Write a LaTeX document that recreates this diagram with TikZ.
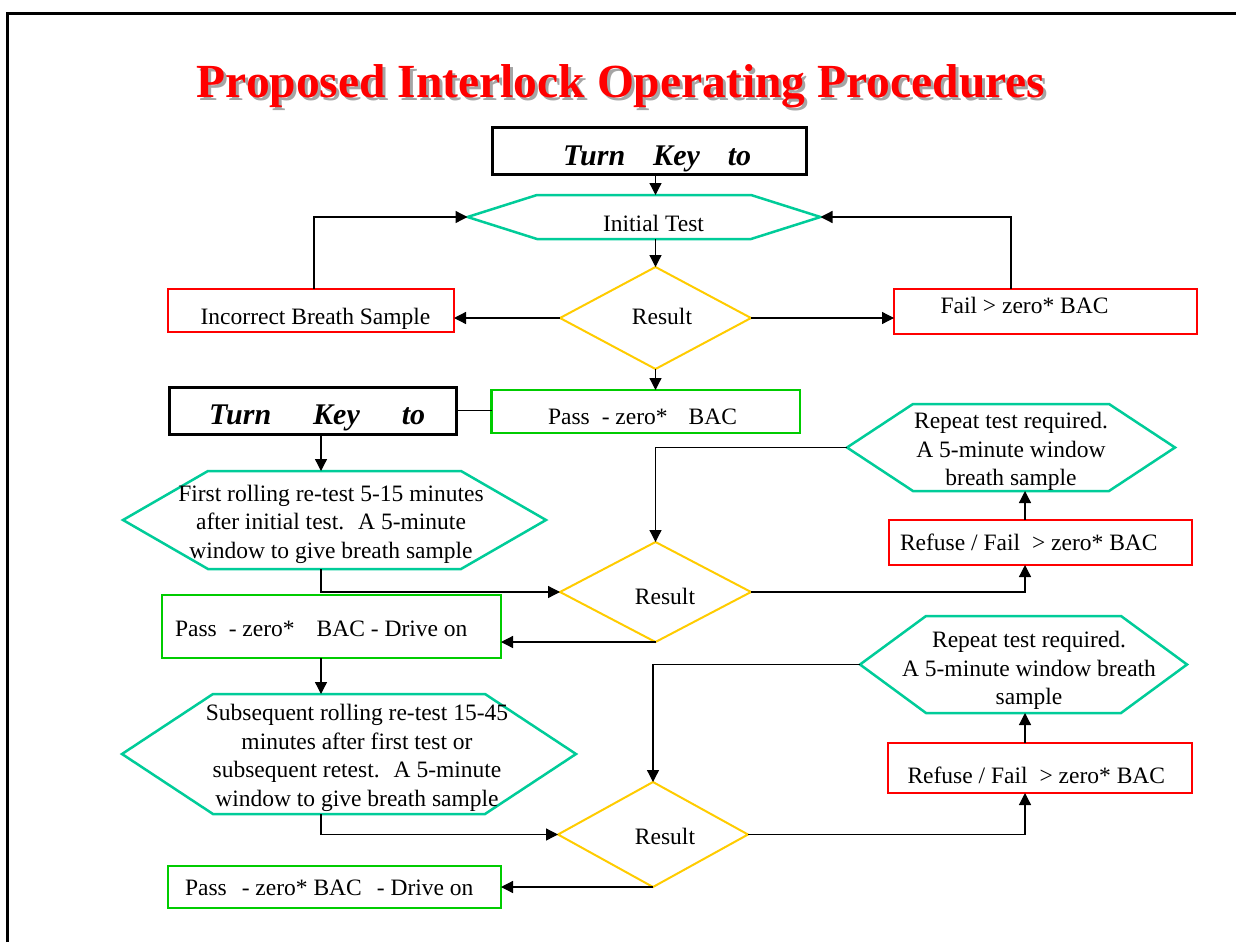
\documentclass[tikz,border=0pt]{standalone}
\usepackage{fontspec}
\setmainfont{Liberation Serif}
\usetikzlibrary{arrows.meta,calc,shapes.geometric}

\definecolor{hexteal}{RGB}{0,204,153}
\definecolor{decgold}{RGB}{255,204,0}
\definecolor{failred}{RGB}{255,0,0}
\definecolor{passgreen}{RGB}{0,204,0}
\definecolor{shadowgrey}{RGB}{165,165,165}

% Hexagon with pointed left and right ends:
% #1 name, #2,#3 centre, #4 half length of flat edge, #5 half height, #6 tip depth
\newcommand\hexoutline[6]{%
  \coordinate (#1) at (#2,#3);
  \coordinate (#1-n) at ($(#1)+(0,-#5)$);
  \coordinate (#1-s) at ($(#1)+(0,#5)$);
  \coordinate (#1-w) at ($(#1)+(-#4-#6,0)$);
  \coordinate (#1-e) at ($(#1)+(#4+#6,0)$);
  \draw[hexline] ($(#1)+(-#4,-#5)$) -- ($(#1)+(#4,-#5)$) -- (#1-e)
    -- ($(#1)+(#4,#5)$) -- ($(#1)+(-#4,#5)$) -- (#1-w) -- cycle;
}

\begin{document}
\begin{tikzpicture}[x=1pt,y=-1pt,
  every node/.style={inner sep=0pt, outer sep=0pt},
  bodytext/.style={font=\fontsize{23.5}{28.6}\selectfont, align=center},
  boxtext/.style={font=\fontsize{23.5}{28.6}\selectfont, anchor=base},
  boxtextw/.style={font=\fontsize{23.5}{28.6}\selectfont, anchor=base west},
  keytext/.style={font=\fontsize{30}{36}\selectfont\bfseries\itshape, anchor=base west},
  titletext/.style={font=\fontsize{47.5}{57}\selectfont\bfseries, anchor=base},
  keybox/.style={draw=black, line width=3pt},
  redbox/.style={draw=failred, line width=2.5pt},
  greenbox/.style={draw=passgreen, line width=2.5pt},
  decision/.style={diamond, draw=decgold, line width=2pt},
  hexline/.style={draw=hexteal, line width=2.5pt, line join=miter},
  flow/.style={draw=black, line width=1.3pt, -{Triangle[length=12pt,width=12pt]}},
  link/.style={draw=black, line width=1.3pt},
]
\fill[white] (0,0) rectangle (1236,942);
\useasboundingbox (0,0) rectangle (1236,942);

% page frame
\draw[line width=3pt] (7.5,942) -- (7.5,13.5) -- (1236,13.5);

% title with drop shadow
\node[titletext, text=shadowgrey] (titleshadow) at (624,100) {Proposed Interlock Operating Procedures};
\node[titletext, text=failred] (title) at (621,97) {Proposed Interlock Operating Procedures};

% lanes used by the vertical connectors
\coordinate (lane) at (321,500);
\coordinate (rlane) at (1025,600);

% ---- start ----
\node[keybox, minimum width=314pt, minimum height=47pt] (key1) at (649,150.5) {};
\node[keytext] (key1t) at (563,165) {Turn\hspace{28pt}Key\hspace{28pt}to};

\hexoutline{hexA}{644}{217}{107}{22}{69.5}
\node[boxtext] (hexAt) at (653.5,231) {Initial Test};

\node[decision, minimum width=191pt, minimum height=102pt] (d1) at (655.5,318) {};
\node[boxtext] (d1t) at (662,324) {Result};

\node[redbox, minimum width=286pt, minimum height=43pt] (incorrect) at (311,310.5) {};
\node[boxtext] (incorrectt) at (315.5,324) {Incorrect Breath Sample};

\node[redbox, minimum width=303pt, minimum height=45pt] (fail) at (1045.5,311.5) {};
\node[boxtext] (failt) at (1024.5,313) {Fail > zero* BAC};

\node[greenbox, minimum width=308.5pt, minimum height=43pt] (pass1) at (645.75,411.5) {};
\node[boxtextw] (pass1t) at (548,424) {Pass\hspace{12pt}- zero*\hspace{21pt}BAC};

\node[keybox, minimum width=287pt, minimum height=47pt] (key2) at (312.5,410.5) {};
\node[keytext] (key2t) at (209,424) {Turn\hspace{42pt}Key\hspace{42pt}to};

% ---- first rolling re-test ----
\hexoutline{hexB}{334.5}{520}{126.5}{49}{85}
\node[bodytext] (hexBt) at (331,524) {First rolling re-test 5-15 minutes\\after initial test.\hspace{14pt}A 5-minute\\window to give breath sample};

\node[decision, minimum width=191pt, minimum height=100pt] (d2) at (655.5,592) {};
\node[boxtext] (d2t) at (665,604) {Result};

\node[greenbox, minimum width=339pt, minimum height=63pt] (pass2) at (331.5,626.5) {};
\node[boxtextw] (pass2t) at (175,636) {Pass\hspace{12pt}- zero*\hspace{22pt}BAC - Drive on};

\node[redbox, minimum width=303pt, minimum height=45pt] (refuse1) at (1040.5,542.5) {};
\node[boxtextw] (refuse1t) at (900,550) {Refuse / Fail\hspace{12pt}> zero* BAC};

\hexoutline{hexD}{1011}{447.5}{98}{43.5}{66}
\node[bodytext] (hexDt) at (1011,451.5) {Repeat test required.\\A 5-minute window\\breath sample};

% ---- subsequent rolling re-test ----
\hexoutline{hexC}{349}{754}{136}{60}{91}
\node[bodytext] (hexCt) at (357,758) {Subsequent rolling re-test 15-45\\minutes after first test or\\subsequent retest.\hspace{14pt}A 5-minute\\window to give breath sample};

\node[decision, minimum width=190pt, minimum height=105pt] (d3) at (653,834.5) {};
\node[boxtext] (d3t) at (665,844) {Result};

\node[greenbox, minimum width=333pt, minimum height=42pt] (pass3) at (334.5,887) {};
\node[boxtextw] (pass3t) at (185,895) {Pass\hspace{15pt}- zero* BAC\hspace{15pt}- Drive on};

\node[redbox, minimum width=304pt, minimum height=50pt] (refuse2) at (1040,768) {};
\node[boxtextw] (refuse2t) at (907.5,783) {Refuse / Fail\hspace{12pt}> zero* BAC};

\hexoutline{hexE}{1023.5}{664.5}{97.5}{48.5}{66}
\node[bodytext] (hexEt) at (1029,670.5) {Repeat test required.\\A 5-minute window breath\\sample};

% ---- connectors ----
\draw[flow] (d1.north |- key1.south) -- (d1.north |- hexA-n);
\draw[flow] (d1.north |- hexA-s) -- (d1.north);
\draw[flow] (d1.west) -- (d1.west -| incorrect.east);
\draw[flow] (d1.east) -- (d1.east -| fail.west);
\draw[flow] ([xshift=3pt]incorrect.north) |- (hexA-w);
\draw[flow] ([xshift=-34.5pt]fail.north) |- (hexA-e);
\draw[flow] (d1.south) -- (d1.south |- pass1.north);
\draw[link] (key2.east) -- (key2.east -| pass1.west);

\draw[flow] (lane |- key2.south) -- (lane |- hexB-n);
\draw[flow] (lane |- hexB-s) |- (d2.west);
\draw[flow] (d2.south) -- (d2.south -| pass2.east);
\draw[flow] (d2.east) -| (rlane |- refuse1.south);
\draw[flow] (rlane |- refuse1.north) -- (rlane |- hexD-s);
\draw[flow] (hexD-w) -| (d2.north);

\draw[flow] (lane |- pass2.south) -- (lane |- hexC-n);
\draw[flow] (lane |- hexC-s) |- (d3.west);
\draw[flow] (d3.south) -- (d3.south -| pass3.east);
\draw[flow] (d3.east) -| (rlane |- refuse2.south);
\draw[flow] (rlane |- refuse2.north) -- (rlane |- hexE-s);
\draw[flow] (hexE-w) -| (d3.north);
\end{tikzpicture}
\end{document}
